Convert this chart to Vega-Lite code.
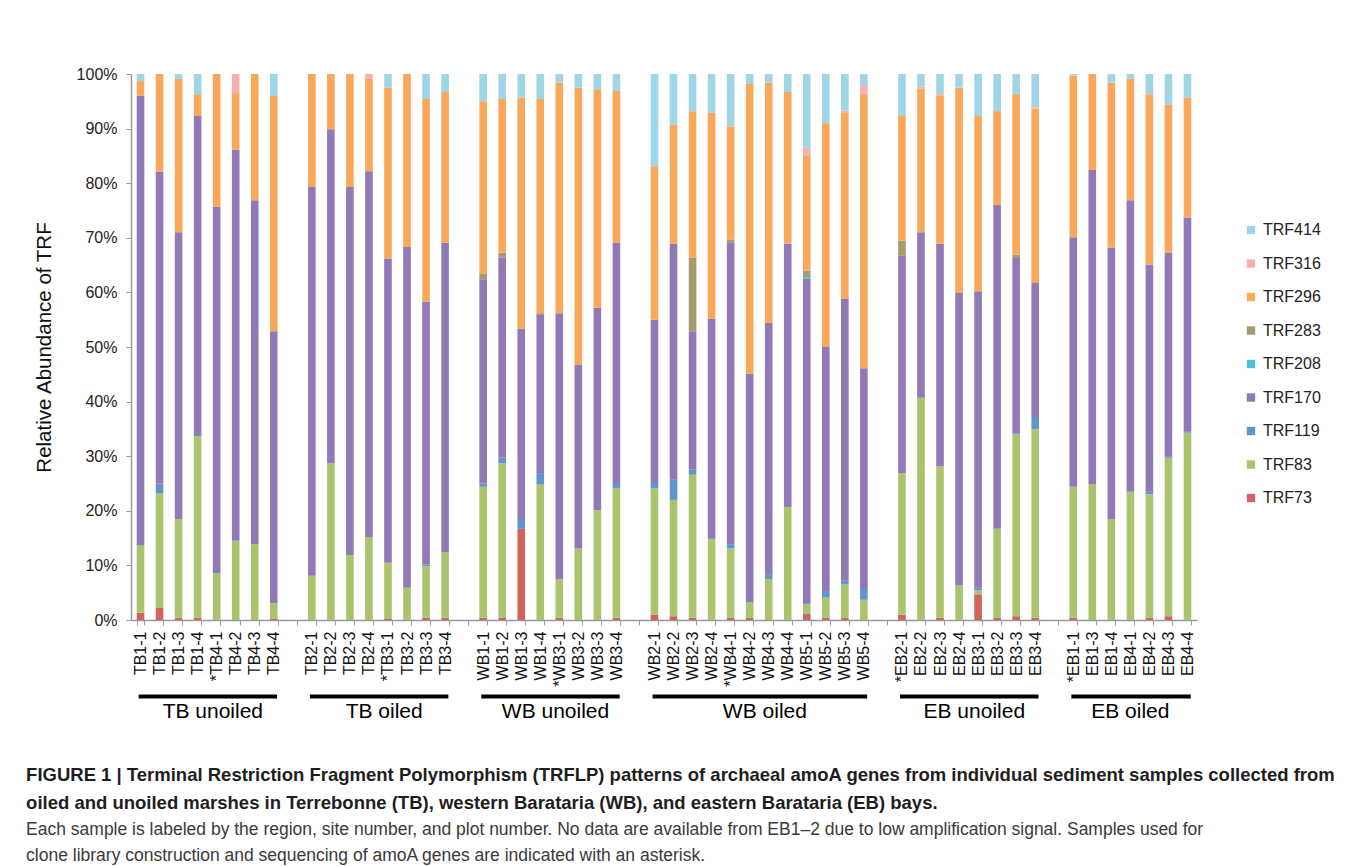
{
  "$schema": "https://vega.github.io/schema/vega-lite/v6.json",
  "autosize": "none",
  "width": 1066,
  "height": 546,
  "padding": {"left": 131, "top": 74, "right": 158, "bottom": 246},
  "background": "white",
  "config": {"view": {"stroke": null}, "font": "Liberation Sans"},
  "title": {
    "text": [
      "FIGURE 1 | Terminal Restriction Fragment Polymorphism (TRFLP) patterns of archaeal amoA genes from individual sediment samples collected from",
      "oiled and unoiled marshes in Terrebonne (TB), western Barataria (WB), and eastern Barataria (EB) bays."
    ],
    "subtitle": [
      "Each sample is labeled by the region, site number, and plot number. No data are available from EB1–2 due to low amplification signal. Samples used for",
      "clone library construction and sequencing of amoA genes are indicated with an asterisk."
    ],
    "orient": "bottom",
    "anchor": "start",
    "frame": "bounds",
    "offset": 44,
    "dx": -8,
    "font": "Liberation Sans Narrow, Liberation Sans",
    "fontSize": 18.5,
    "fontWeight": "bold",
    "color": "#1e1e1e",
    "lineHeight": 27.5,
    "subtitleFont": "Liberation Sans Narrow, Liberation Sans",
    "subtitleFontSize": 17.5,
    "subtitleColor": "#3a3a3a",
    "subtitleLineHeight": 26,
    "subtitlePadding": 9
  },
  "datasets": {
    "samples": [
      {"sample": "TB1-1", "TRF73": 1.3, "TRF83": 12.4, "TRF170": 82.3, "TRF296": 2.7, "TRF414": 1.3},
      {"sample": "TB1-2", "TRF73": 2.2, "TRF83": 21.0, "TRF119": 1.8, "TRF170": 57.1, "TRF296": 17.9},
      {"sample": "TB1-3", "TRF73": 0.4, "TRF83": 18.1, "TRF170": 52.5, "TRF296": 28.1, "TRF414": 0.9},
      {"sample": "TB1-4", "TRF73": 0.4, "TRF83": 33.3, "TRF119": 0.2, "TRF170": 58.4, "TRF296": 4.0, "TRF414": 3.7},
      {"sample": "*TB4-1", "TRF83": 8.5, "TRF170": 67.2, "TRF296": 24.3},
      {"sample": "TB4-2", "TRF83": 14.5, "TRF170": 71.6, "TRF296": 10.4, "TRF316": 3.5},
      {"sample": "TB4-3", "TRF83": 13.9, "TRF170": 63.0, "TRF296": 23.1},
      {"sample": "TB4-4", "TRF73": 0.2, "TRF83": 2.9, "TRF170": 49.8, "TRF296": 43.1, "TRF414": 4.0},
      {"sample": "TB2-1", "TRF83": 8.1, "TRF170": 71.2, "TRF296": 20.7},
      {"sample": "TB2-2", "TRF83": 28.7, "TRF170": 61.2, "TRF296": 10.1},
      {"sample": "TB2-3", "TRF83": 11.9, "TRF170": 67.4, "TRF296": 20.7},
      {"sample": "TB2-4", "TRF83": 15.2, "TRF170": 67.0, "TRF296": 16.9, "TRF316": 0.9},
      {"sample": "*TB3-1", "TRF73": 0.2, "TRF83": 10.3, "TRF170": 55.7, "TRF296": 31.3, "TRF414": 2.5},
      {"sample": "TB3-2", "TRF83": 5.9, "TRF170": 62.4, "TRF296": 31.7},
      {"sample": "TB3-3", "TRF73": 0.4, "TRF83": 9.5, "TRF119": 0.3, "TRF170": 48.1, "TRF296": 37.1, "TRF414": 4.6},
      {"sample": "TB3-4", "TRF73": 0.4, "TRF83": 12.0, "TRF170": 56.7, "TRF296": 27.6, "TRF414": 3.3},
      {"sample": "WB1-1", "TRF73": 0.4, "TRF83": 24.0, "TRF119": 0.6, "TRF170": 37.4, "TRF283": 1.1, "TRF296": 31.5, "TRF414": 5.0},
      {"sample": "WB1-2", "TRF73": 0.4, "TRF83": 28.3, "TRF119": 1.0, "TRF170": 36.7, "TRF283": 0.9, "TRF296": 28.1, "TRF414": 4.6},
      {"sample": "WB1-3", "TRF73": 16.7, "TRF119": 1.8, "TRF170": 34.9, "TRF296": 42.3, "TRF414": 4.3},
      {"sample": "WB1-4", "TRF83": 24.8, "TRF119": 2.1, "TRF170": 29.1, "TRF283": 0.2, "TRF296": 39.2, "TRF414": 4.6},
      {"sample": "*WB3-1", "TRF73": 0.4, "TRF83": 7.1, "TRF170": 48.7, "TRF296": 42.2, "TRF414": 1.6},
      {"sample": "WB3-2", "TRF83": 13.1, "TRF170": 33.6, "TRF296": 50.8, "TRF414": 2.5},
      {"sample": "WB3-3", "TRF83": 20.1, "TRF170": 37.1, "TRF296": 40.0, "TRF414": 2.8},
      {"sample": "WB3-4", "TRF73": 0.4, "TRF83": 23.7, "TRF119": 0.8, "TRF170": 44.2, "TRF296": 27.8, "TRF414": 3.1},
      {"sample": "WB2-1", "TRF73": 1.0, "TRF83": 23.1, "TRF119": 1.0, "TRF170": 29.9, "TRF296": 28.1, "TRF414": 16.9},
      {"sample": "WB2-2", "TRF73": 0.7, "TRF83": 21.3, "TRF119": 3.7, "TRF170": 43.2, "TRF296": 21.8, "TRF414": 9.3},
      {"sample": "WB2-3", "TRF73": 0.4, "TRF83": 26.2, "TRF119": 0.9, "TRF170": 25.4, "TRF283": 13.5, "TRF296": 26.8, "TRF414": 6.8},
      {"sample": "WB2-4", "TRF83": 14.9, "TRF170": 40.3, "TRF296": 37.7, "TRF414": 7.1},
      {"sample": "*WB4-1", "TRF73": 0.4, "TRF83": 12.7, "TRF119": 0.8, "TRF170": 55.3, "TRF283": 0.5, "TRF296": 20.7, "TRF414": 9.6},
      {"sample": "WB4-2", "TRF73": 0.4, "TRF83": 2.8, "TRF170": 41.9, "TRF296": 53.1, "TRF414": 1.8},
      {"sample": "WB4-3", "TRF83": 7.5, "TRF119": 0.9, "TRF170": 46.0, "TRF296": 44.0, "TRF414": 1.6},
      {"sample": "WB4-4", "TRF83": 20.7, "TRF170": 48.2, "TRF296": 27.8, "TRF414": 3.3},
      {"sample": "WB5-1", "TRF73": 1.1, "TRF83": 1.8, "TRF119": 0.2, "TRF170": 59.4, "TRF208": 0.3, "TRF283": 1.2, "TRF296": 21.0, "TRF316": 1.5, "TRF414": 13.5},
      {"sample": "WB5-2", "TRF73": 0.4, "TRF83": 3.7, "TRF119": 1.2, "TRF170": 44.7, "TRF296": 41.0, "TRF414": 9.0},
      {"sample": "WB5-3", "TRF73": 0.4, "TRF83": 6.1, "TRF119": 0.7, "TRF170": 51.7, "TRF296": 34.1, "TRF316": 0.3, "TRF414": 6.7},
      {"sample": "WB5-4", "TRF83": 3.7, "TRF119": 2.0, "TRF170": 40.4, "TRF296": 50.2, "TRF316": 1.7, "TRF414": 2.0},
      {"sample": "*EB2-1", "TRF73": 1.0, "TRF83": 25.9, "TRF170": 39.8, "TRF283": 2.8, "TRF296": 22.8, "TRF414": 7.7},
      {"sample": "EB2-2", "TRF83": 40.7, "TRF170": 30.3, "TRF296": 26.3, "TRF316": 0.4, "TRF414": 2.3},
      {"sample": "EB2-3", "TRF73": 0.4, "TRF83": 27.7, "TRF170": 40.8, "TRF296": 27.2, "TRF316": 0.2, "TRF414": 3.7},
      {"sample": "EB2-4", "TRF83": 6.3, "TRF170": 53.6, "TRF296": 37.6, "TRF414": 2.5},
      {"sample": "EB3-1", "TRF73": 4.7, "TRF83": 0.7, "TRF119": 0.5, "TRF170": 54.3, "TRF296": 32.1, "TRF414": 7.7},
      {"sample": "EB3-2", "TRF73": 0.4, "TRF83": 16.3, "TRF170": 59.3, "TRF296": 17.2, "TRF414": 6.8},
      {"sample": "EB3-3", "TRF73": 0.7, "TRF83": 33.3, "TRF119": 0.2, "TRF170": 32.1, "TRF283": 0.6, "TRF296": 29.4, "TRF414": 3.7},
      {"sample": "EB3-4", "TRF73": 0.4, "TRF83": 34.5, "TRF119": 2.3, "TRF170": 24.5, "TRF296": 32.0, "TRF316": 0.2, "TRF414": 6.1},
      {"sample": "*EB1-1", "TRF73": 0.4, "TRF83": 24.0, "TRF170": 45.7, "TRF296": 29.6, "TRF414": 0.3},
      {"sample": "EB1-3", "TRF83": 24.9, "TRF170": 57.5, "TRF296": 17.6},
      {"sample": "EB1-4", "TRF83": 18.5, "TRF170": 49.7, "TRF296": 30.2, "TRF414": 1.6},
      {"sample": "EB4-1", "TRF83": 23.5, "TRF170": 53.4, "TRF296": 22.2, "TRF414": 0.9},
      {"sample": "EB4-2", "TRF73": 0.4, "TRF83": 22.6, "TRF119": 0.5, "TRF170": 41.6, "TRF296": 31.2, "TRF414": 3.7},
      {"sample": "EB4-3", "TRF73": 0.7, "TRF83": 29.0, "TRF119": 0.3, "TRF170": 37.3, "TRF296": 27.1, "TRF414": 5.6},
      {"sample": "EB4-4", "TRF83": 34.3, "TRF119": 0.2, "TRF170": 39.2, "TRF296": 22.0, "TRF414": 4.3}
    ],
    "groups": [
      {"group": "TB unoiled", "first": "TB1-1", "last": "TB4-4", "mid": "*TB4-1"},
      {"group": "TB oiled", "first": "TB2-1", "last": "TB3-4", "mid": "*TB3-1"},
      {"group": "WB unoiled", "first": "WB1-1", "last": "WB3-4", "mid": "*WB3-1"},
      {"group": "WB oiled", "first": "WB2-1", "last": "WB5-4", "mid": "WB4-3"},
      {"group": "EB unoiled", "first": "*EB2-1", "last": "EB3-4", "mid": "EB3-1"},
      {"group": "EB oiled", "first": "*EB1-1", "last": "EB4-4", "mid": "EB4-1"}
    ]
  },
  "layer": [
    {
      "data": {"name": "samples"},
      "transform": [
        {"fold": ["TRF73", "TRF83", "TRF119", "TRF170", "TRF208", "TRF283", "TRF296", "TRF316", "TRF414"], "as": ["trf", "pct"]},
        {"filter": "isValid(datum.pct)"},
        {"calculate": "toNumber(slice(datum.trf, 3))", "as": "fragment"}
      ],
      "mark": {"type": "bar"},
      "encoding": {
        "x": {
          "field": "sample",
          "type": "nominal",
          "sort": null,
          "scale": {
            "domain": ["TB1-1", "TB1-2", "TB1-3", "TB1-4", "*TB4-1", "TB4-2", "TB4-3", "TB4-4", " ",
                       "TB2-1", "TB2-2", "TB2-3", "TB2-4", "*TB3-1", "TB3-2", "TB3-3", "TB3-4", "  ",
                       "WB1-1", "WB1-2", "WB1-3", "WB1-4", "*WB3-1", "WB3-2", "WB3-3", "WB3-4", "   ",
                       "WB2-1", "WB2-2", "WB2-3", "WB2-4", "*WB4-1", "WB4-2", "WB4-3", "WB4-4", "WB5-1", "WB5-2", "WB5-3", "WB5-4", "    ",
                       "*EB2-1", "EB2-2", "EB2-3", "EB2-4", "EB3-1", "EB3-2", "EB3-3", "EB3-4", "     ",
                       "*EB1-1", "EB1-3", "EB1-4", "EB4-1", "EB4-2", "EB4-3", "EB4-4"],
            "paddingInner": 0.6,
            "paddingOuter": 0.3
          },
          "axis": {
            "title": null,
            "labelAngle": -90,
            "labelFontSize": 16,
            "labelColor": "#111111",
            "labelPadding": 6,
            "labelOverlap": false,
            "labelBound": false,
            "tickBand": "extent",
            "tickSize": 5,
            "tickColor": "#9a9a9a",
            "domainColor": "#9a9a9a",
            "domainWidth": 1.5
          }
        },
        "y": {
          "field": "pct",
          "type": "quantitative",
          "stack": "zero",
          "scale": {"domain": [0, 100], "nice": false},
          "axis": {
            "title": "Relative Abundance of TRF",
            "titleFontSize": 20.5,
            "titleFontWeight": "normal",
            "titleColor": "#111111",
            "titlePadding": 22,
            "values": [0, 10, 20, 30, 40, 50, 60, 70, 80, 90, 100],
            "labelExpr": "datum.value + '%'",
            "labelFontSize": 16,
            "labelColor": "#222222",
            "labelPadding": 9,
            "tickSize": 5,
            "tickColor": "#9a9a9a",
            "domainColor": "#9a9a9a",
            "domainWidth": 1.5,
            "grid": false
          }
        },
        "color": {
          "field": "trf",
          "type": "nominal",
          "scale": {
            "domain": ["TRF414", "TRF316", "TRF296", "TRF283", "TRF208", "TRF170", "TRF119", "TRF83", "TRF73"],
            "range": ["#9fd6e6", "#f2b1b0", "#f9a75a", "#a59b6d", "#4ac0da", "#9079b4", "#6195cd", "#aac46e", "#d0635d"]
          },
          "legend": {
            "title": null,
            "orient": "none",
            "direction": "vertical",
            "legendX": 1112,
            "legendY": 148,
            "padding": 0,
            "symbolType": "square",
            "symbolSize": 70,
            "symbolStrokeWidth": 0,
            "labelFontSize": 16,
            "labelColor": "#222222",
            "labelOffset": 4,
            "rowPadding": 17.5
          }
        },
        "order": {"field": "fragment", "type": "quantitative", "sort": "ascending"}
      }
    },
    {
      "data": {"name": "groups"},
      "mark": {"type": "rule", "strokeWidth": 4, "color": "black"},
      "encoding": {
        "x": {"field": "first", "type": "nominal", "bandPosition": 0.25},
        "x2": {"field": "last", "bandPosition": 0.93},
        "y": {"datum": -14}
      }
    },
    {
      "data": {"name": "groups"},
      "transform": [{"filter": "datum.group != 'EB oiled'"}],
      "mark": {"type": "text", "fontSize": 21, "color": "black", "baseline": "middle", "align": "center"},
      "encoding": {
        "x": {"field": "mid", "type": "nominal", "bandPosition": 0},
        "y": {"datum": -16.9},
        "text": {"field": "group"}
      }
    },
    {
      "data": {"name": "groups"},
      "transform": [{"filter": "datum.group == 'EB oiled'"}],
      "mark": {"type": "text", "fontSize": 21, "color": "black", "baseline": "middle", "align": "center"},
      "encoding": {
        "x": {"field": "mid", "type": "nominal", "bandPosition": 0.5},
        "y": {"datum": -16.9},
        "text": {"field": "group"}
      }
    }
  ]
}
